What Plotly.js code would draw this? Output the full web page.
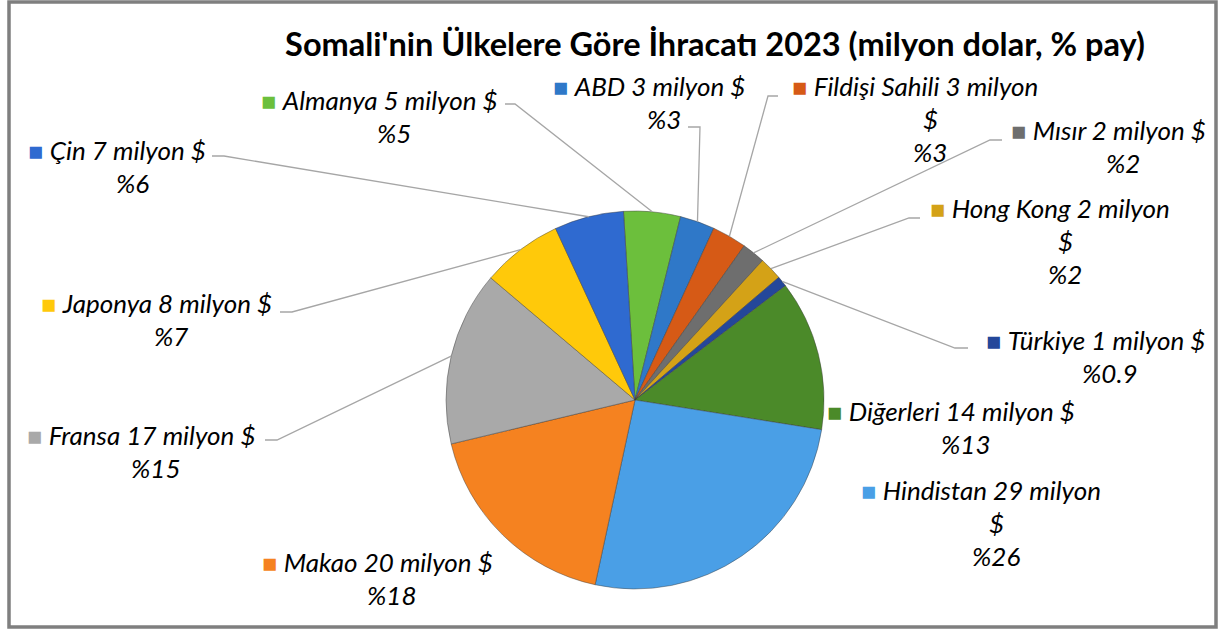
<!DOCTYPE html>
<html><head><meta charset="utf-8">
<script src="https://cdn.plot.ly/plotly-3.0.1.min.js"></script>
<style>html,body{margin:0;padding:0;background:#fff}</style>
</head><body><div id="chart" style="width:1219px;height:630px"></div>
<script>
// ---- data ----
const countries = ["Almanya","ABD","Fildişi Sahili","Mısır","Hong Kong","Türkiye","Diğerleri","Hindistan","Makao","Fransa","Japonya","Çin"];
const exportsMillionUSD = [5.4,3.3,3.3,2.2,2.2,1.0,14.3,28.8,19.9,16.6,7.7,6.6];
const chartTitle = "Somali'nin Ülkelere Göre İhracatı 2023 (milyon dolar, % pay)";
const unitLabel = "milyon $";

// ---- styles / layout ----
const sliceColors = ["#6cbf3c","#2f78c8","#d65a16","#6e6e6e","#d4a217","#24479a","#4b8a29","#4a9fe6","#f58220","#a9a9a9","#ffc90a","#2f6ad0"];
const W = 1219, H = 630;
const pie = {cx: 635, cy: 400, r: 189, rotation: -3.5};
// label placement: text centre x, first-line y, whether "$" wraps, leader polyline start points
const labelPos = [
  {x:394, y:100, wrap:false, lead:[[505,104],[515,104]]},
  {x:664, y:86,  wrap:false, lead:[[688,127],[700,127]]},
  {x:930, y:86,  wrap:true,  lead:[[778,96],[768,96]]},
  {x:1123,y:130, wrap:false, lead:[[1002,140],[990,140]]},
  {x:1065,y:208, wrap:true,  lead:[[920,218],[909,218]]},
  {x:1110,y:340, wrap:false, lead:[[968,348],[955,348]]},
  {x:966, y:411, wrap:false, lead:null},
  {x:996, y:490, wrap:true,  lead:null},
  {x:392, y:562, wrap:false, lead:null},
  {x:156, y:435, wrap:false, lead:[[265,440],[277,440]]},
  {x:171, y:303, wrap:false, lead:[[280,312],[292,312]]},
  {x:132, y:150, wrap:false, lead:[[212,156],[224,156]]}
];
const lineGap = 33;
const labelFont = {family:"Lato, 'Open Sans', sans-serif", size:26, color:"#000"};

const px = x => x / W, py = y => 1 - y / H;
const total = exportsMillionUSD.reduce((a,b)=>a+b,0);

const annotations = [];
const shapes = [];
let cum = 0;
countries.forEach((name, i) => {
  const v = exportsMillionUSD[i];
  const pct = v / total * 100;
  const pctTxt = "%" + (pct < 1 ? pct.toFixed(1) : Math.round(pct));
  const p = labelPos[i];
  const first = name + " " + Math.round(v) + " " + (p.wrap ? unitLabel.replace(" $","") : unitLabel);
  const lines = p.wrap ? [first, "$", pctTxt] : [first, pctTxt];
  lines.forEach((t, k) => {
    const isFirst = k === 0;
    annotations.push({
      xref:"paper", yref:"paper", showarrow:false,
      x: px(isFirst ? p.x - 15 : p.x), y: py(p.y + k*lineGap),
      xanchor:"center", yanchor:"middle",
      text: isFirst ? '<span style="font-style:normal;font-size:25px;color:'+sliceColors[i]+'">■</span> <i>'+t+'</i>' : '<i>'+t+'</i>',
      font: labelFont
    });
  });
  const mid = (pie.rotation + (cum + v/2) / total * 360) * Math.PI / 180;
  cum += v;
  if (p.lead) {
    const ex = pie.cx + pie.r * Math.sin(mid), ey = pie.cy - pie.r * Math.cos(mid);
    const pts = p.lead.concat([[ex, ey]]);
    shapes.push({type:"path", xref:"paper", yref:"paper",
      path: pts.map((q,k)=>(k?"L":"M")+px(q[0])+","+py(q[1])).join(" "),
      line:{color:"#a6a6a6", width:1.3}});
  }
});

shapes.push({type:"rect", xref:"paper", yref:"paper",
  x0:px(9), x1:px(1216), y0:py(627), y1:py(2), line:{color:"#7f7f7f", width:3.5}});

const trace = {
  type:"pie", labels:countries, values:exportsMillionUSD,
  sort:false, direction:"clockwise", rotation:pie.rotation,
  marker:{colors:sliceColors, line:{color:"rgba(60,60,60,0.45)", width:1}},
  textinfo:"none", hoverinfo:"label+value+percent", showlegend:false,
  domain:{x:[px(pie.cx-pie.r), px(pie.cx+pie.r)], y:[py(pie.cy+pie.r), py(pie.cy-pie.r)]}
};

const layout = {
  width:W, height:H, margin:{l:0,r:0,t:0,b:0},
  paper_bgcolor:"#fff",
  title:{text:"<b>"+chartTitle+"</b>", x:px(715), xanchor:"center", y:py(45), yanchor:"middle",
         font:{family:"Lato, 'Open Sans', sans-serif", size:32.5, color:"#000"}},
  annotations, shapes, showlegend:false
};
Plotly.newPlot("chart", [trace], layout, {displayModeBar:false, staticPlot:true});
</script></body></html>
